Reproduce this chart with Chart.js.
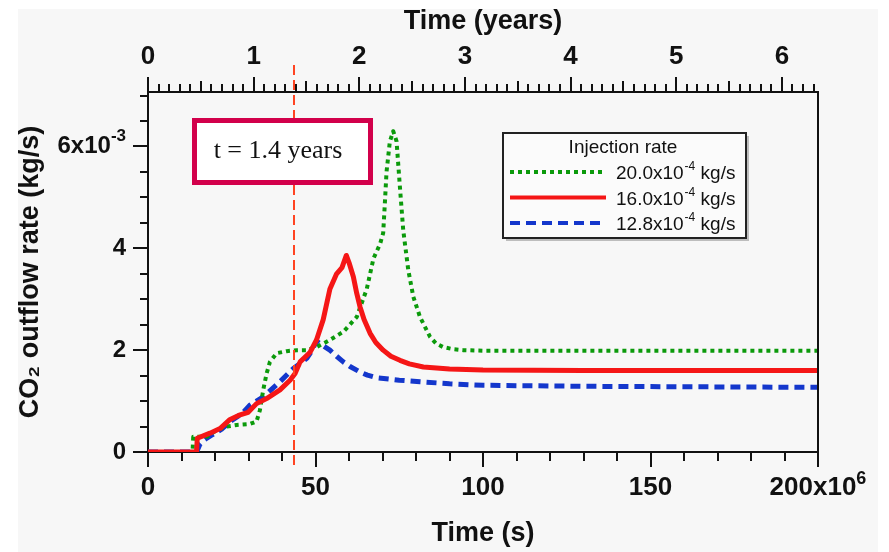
<!DOCTYPE html>
<html>
<head>
<meta charset="utf-8">
<title>CO2 outflow rate</title>
<script src="https://cdn.jsdelivr.net/npm/chart.js@4.4.1/dist/chart.umd.min.js"></script>
<style>
    html, body { margin: 0; padding: 0; background: #ffffff; }
    canvas { display: block; }
</style>
</head>
<body>
<canvas id="grafico-co2" width="889" height="552"></canvas>
<script>
// time in 10^6 s, rate in 10^-3 kg/s
const greenTime = [0, 13.3, 13.5, 17.5, 20.5, 23.5, 26.5, 30.4, 32.4, 33.4, 34.4, 35.4, 36.4, 38.4, 41.4, 44.4, 47.4, 50.3, 54.3, 58.3, 62.3, 65.3, 67.3, 69.3, 70.2, 70.7, 71.2, 72.2, 73.2, 74.2, 75.2, 76.2, 77.7, 79.2, 81.2, 84.2, 86, 88.1, 91, 94.1, 100, 150, 200];
const greenRate = [0, 0, 0.3, 0.3, 0.43, 0.5, 0.53, 0.55, 0.6, 0.82, 1.22, 1.54, 1.77, 1.94, 1.98, 2.0, 2.0, 2.06, 2.2, 2.36, 2.65, 3.2, 3.8, 4.09, 4.3, 4.88, 5.5, 6.1, 6.3, 6.1, 5.2, 4.35, 3.57, 3.05, 2.65, 2.26, 2.13, 2.06, 2.02, 2.0, 1.99, 1.99, 1.99];

const redTime = [0, 14.5, 14.7, 18.5, 21.5, 24.5, 27.5, 29.9, 32.4, 35.4, 39.4, 42.4, 43.9, 45.4, 48.4, 50.3, 52.3, 54.3, 56.3, 57.9, 59.2, 60.0, 61.3, 62.3, 63.3, 64.5, 66.3, 68, 70.2, 72.5, 75.2, 78, 82.2, 90, 100, 130, 200];
const redRate = [0, 0, 0.27, 0.37, 0.46, 0.64, 0.73, 0.78, 0.95, 1.05, 1.22, 1.41, 1.54, 1.77, 1.96, 2.2, 2.6, 3.2, 3.5, 3.62, 3.86, 3.72, 3.44, 3.12, 2.85, 2.6, 2.33, 2.15, 2.0, 1.88, 1.8, 1.73, 1.67, 1.63, 1.61, 1.6, 1.6];

const blueTime = [0, 14.5, 15.5, 17, 19, 22, 25, 28, 30.4, 34.4, 39.4, 43.4, 47.4, 49, 50.3, 52, 54.3, 56.3, 58.3, 60.3, 63.3, 65.5, 68.2, 75, 81.2, 90, 100, 130, 200];
const blueRate = [0, 0, 0.15, 0.25, 0.33, 0.45, 0.62, 0.75, 0.92, 1.08, 1.38, 1.64, 1.84, 2.0, 2.18, 2.1, 2.0, 1.88, 1.77, 1.68, 1.57, 1.51, 1.46, 1.41, 1.38, 1.34, 1.31, 1.29, 1.27];

const rateNames = ['20.0', '16.0', '12.8'];

const xTicks = [0, 50, 100, 150, 200];
const xTickLabels = ['0', '50', '100', '150', '200x10'];
const xTickPowers = ['', '', '', '', '6'];
const yTicks = [0, 2, 4, 6];
const yTickLabels = ['0', '2', '4', '6x10'];
const yTickPowers = ['', '', '', '-3'];
const yearTicks = [0, 1, 2, 3, 4, 5, 6];

const secondsPerYear = 31.536;
const markerTime = 43.6;

const FONT = 'Liberation Sans, Arial, sans-serif';

function toPoints(xs, ys) {
    return xs.map((x, i) => ({ x: x, y: ys[i] }));
}

function findTick(list, value) {
    return list.findIndex(v => Math.abs(v - value) < 1e-6);
}

function plainLabel(list, labels, powers) {
    return value => {
        const i = findTick(list, value);
        return i >= 0 && !powers[i] ? labels[i] : '';
    };
}

const tickMarks = {
    id: 'tickMarks',
    afterDraw(chart) {
        const { ctx, chartArea, scales } = chart;
        ctx.save();
        ctx.strokeStyle = '#111';
        ctx.lineWidth = 2;

        ctx.beginPath();
        ctx.moveTo(chartArea.right, chartArea.top);
        ctx.lineTo(chartArea.right, chartArea.bottom);
        ctx.stroke();

        scales.x.ticks.forEach(t => {
            const px = Math.round(scales.x.getPixelForValue(t.value));
            const len = findTick(xTicks, t.value) >= 0 ? 15 : 9;
            ctx.beginPath();
            ctx.moveTo(px, chartArea.bottom);
            ctx.lineTo(px, chartArea.bottom + len);
            ctx.stroke();
        });

        scales.xTop.ticks.forEach(t => {
            const px = Math.round(scales.xTop.getPixelForValue(t.value));
            const frac = Math.abs(t.value - Math.round(t.value));
            let len = 8;
            if (frac < 1e-6) len = 15;
            else if (Math.abs(frac - 0.5) < 1e-6) len = 11;
            ctx.beginPath();
            ctx.moveTo(px, chartArea.top);
            ctx.lineTo(px, chartArea.top - len);
            ctx.stroke();
        });

        scales.y.ticks.forEach(t => {
            const py = Math.round(scales.y.getPixelForValue(t.value));
            const len = findTick(yTicks, t.value) >= 0 ? 15 : 8;
            ctx.beginPath();
            ctx.moveTo(chartArea.left, py);
            ctx.lineTo(chartArea.left - len, py);
            ctx.stroke();
        });

        // labels with a power of ten
        ctx.fillStyle = '#111';
        ctx.textBaseline = 'middle';
        ctx.textAlign = 'left';
        xTicks.forEach((v, i) => {
            if (!xTickPowers[i]) return;
            ctx.font = 'bold 26px ' + FONT;
            const wb = ctx.measureText(xTickLabels[i]).width;
            ctx.font = 'bold 18px ' + FONT;
            const wp = ctx.measureText(xTickPowers[i]).width;
            const x0 = scales.x.getPixelForValue(v) - (wb + wp) / 2;
            const yc = chartArea.bottom + 36;
            ctx.font = 'bold 26px ' + FONT;
            ctx.fillText(xTickLabels[i], x0, yc);
            ctx.font = 'bold 18px ' + FONT;
            ctx.fillText(xTickPowers[i], x0 + wb, yc - 9);
        });
        yTicks.forEach((v, i) => {
            if (!yTickPowers[i]) return;
            ctx.font = 'bold 17px ' + FONT;
            const wp = ctx.measureText(yTickPowers[i]).width;
            ctx.font = 'bold 24px ' + FONT;
            const wb = ctx.measureText(yTickLabels[i]).width;
            const right = chartArea.left - 22;
            const yc = scales.y.getPixelForValue(v);
            ctx.fillText(yTickLabels[i], right - wp - wb, yc);
            ctx.font = 'bold 17px ' + FONT;
            ctx.fillText(yTickPowers[i], right - wp, yc - 10);
        });

        // marker line at t = 1.4 years
        const mx = Math.round(scales.x.getPixelForValue(markerTime));
        ctx.strokeStyle = '#ff4422';
        ctx.lineWidth = 2;
        ctx.setLineDash([10, 5]);
        ctx.beginPath();
        ctx.moveTo(mx, chartArea.top - 27);
        ctx.lineTo(mx, chartArea.bottom + 16);
        ctx.stroke();
        ctx.setLineDash([]);

        // annotation box
        ctx.fillStyle = '#ffffff';
        ctx.fillRect(194.5, 120.5, 176, 62);
        ctx.strokeStyle = '#d2004b';
        ctx.lineWidth = 5;
        ctx.strokeRect(194.5, 120.5, 176, 62);
        ctx.fillStyle = '#111';
        ctx.font = '26px "Liberation Serif", "Times New Roman", serif';
        ctx.textAlign = 'center';
        ctx.textBaseline = 'alphabetic';
        ctx.fillText('t = 1.4 years', 278, 158);

        ctx.restore();
    }
};

const legendBox = {
    id: 'legendBox',
    afterDraw(chart) {
        const { ctx } = chart;
        const left = 503, top = 133, w = 243, h = 105;
        ctx.save();
        ctx.fillStyle = '#bdbdbd';
        ctx.fillRect(left + 3, top + 3, w, h);
        ctx.fillStyle = '#fbfbfb';
        ctx.fillRect(left, top, w, h);
        ctx.strokeStyle = '#222';
        ctx.lineWidth = 2;
        ctx.strokeRect(left, top, w, h);

        ctx.fillStyle = '#111';
        ctx.font = '19px ' + FONT;
        ctx.textAlign = 'center';
        ctx.textBaseline = 'middle';
        ctx.fillText('Injection rate', 623, 148);

        chart.data.datasets.forEach((ds, i) => {
            const y = 172 + i * 25.5;
            ctx.strokeStyle = ds.borderColor;
            ctx.lineWidth = 4;
            ctx.setLineDash(ds.borderDash || []);
            ctx.beginPath();
            ctx.moveTo(510, y);
            ctx.lineTo(606, y);
            ctx.stroke();
            ctx.setLineDash([]);

            ctx.textAlign = 'left';
            ctx.textBaseline = 'alphabetic';
            let x = 616;
            ctx.font = '19px ' + FONT;
            const base = rateNames[i] + 'x10';
            ctx.fillText(base, x, y + 7);
            x += ctx.measureText(base).width;
            ctx.font = '12px ' + FONT;
            ctx.fillText('-4', x + 1, y - 2);
            x += ctx.measureText('-4').width + 1;
            ctx.font = '19px ' + FONT;
            ctx.fillText(' kg/s', x, y + 7);
        });
        ctx.restore();
    }
};

const background = {
    id: 'background',
    beforeDraw(chart) {
        const ctx = chart.ctx;
        ctx.save();
        ctx.fillStyle = '#f7f7f7';
        ctx.fillRect(18, 9, 860, 543);
        ctx.restore();
    }
};

const ctx = document.getElementById('grafico-co2');

new Chart(ctx, {
    type: 'line',
    data: {
        datasets: [{
            label: rateNames[0],
            data: toPoints(greenTime, greenRate),
            xAxisID: 'x',
            yAxisID: 'y',
            borderColor: '#0b9a0b',
            borderWidth: 4,
            borderDash: [4, 4],
            order: 1
        }, {
            label: rateNames[1],
            data: toPoints(redTime, redRate),
            xAxisID: 'x',
            yAxisID: 'y',
            borderColor: '#f51616',
            borderWidth: 5,
            order: 0
        }, {
            label: rateNames[2],
            data: toPoints(blueTime, blueRate),
            xAxisID: 'x',
            yAxisID: 'y',
            borderColor: '#1437cc',
            borderWidth: 5,
            borderDash: [10, 6],
            order: 2
        }]
    },
    options: {
        responsive: false,
        animation: false,
        layout: { padding: { left: 0, right: 71, top: 0, bottom: 0 } },
        elements: {
            point: { radius: 0 },
            line: { tension: 0, fill: false, borderJoinStyle: 'round' }
        },
        plugins: {
            legend: { display: false },
            tooltip: { enabled: false }
        },
        scales: {
            x: {
                type: 'linear',
                position: 'bottom',
                min: 0,
                max: 200,
                ticks: {
                    stepSize: 10,
                    autoSkip: false,
                    maxRotation: 0,
                    minRotation: 0,
                    padding: 5,
                    color: '#111',
                    font: { family: FONT, size: 26, weight: 'bold' },
                    callback: plainLabel(xTicks, xTickLabels, xTickPowers)
                },
                grid: { drawOnChartArea: false, tickLength: 15, tickColor: 'rgba(0,0,0,0)' },
                border: { color: '#111', width: 2 },
                title: {
                    display: true,
                    text: 'Time (s)',
                    color: '#111',
                    font: { family: FONT, size: 27, weight: 'bold' },
                    padding: { top: 0, bottom: 2 }
                },
                afterFit(scale) { scale.height = 100; }
            },
            xTop: {
                type: 'linear',
                position: 'top',
                min: 0,
                max: 200 / secondsPerYear,
                ticks: {
                    stepSize: 0.1,
                    includeBounds: false,
                    autoSkip: false,
                    maxRotation: 0,
                    minRotation: 0,
                    padding: 5,
                    color: '#111',
                    font: { family: FONT, size: 26, weight: 'bold' },
                    callback: value => {
                        const i = findTick(yearTicks, value);
                        return i >= 0 ? String(yearTicks[i]) : '';
                    }
                },
                grid: { drawOnChartArea: false, tickLength: 15, tickColor: 'rgba(0,0,0,0)' },
                border: { color: '#111', width: 2 },
                title: {
                    display: true,
                    text: 'Time (years)',
                    color: '#111',
                    font: { family: FONT, size: 27, weight: 'bold' },
                    padding: { top: 5, bottom: 0 }
                },
                afterFit(scale) { scale.height = 92; }
            },
            y: {
                type: 'linear',
                position: 'left',
                min: 0,
                max: 7.07,
                ticks: {
                    stepSize: 0.5,
                    includeBounds: false,
                    autoSkip: false,
                    padding: 7,
                    color: '#111',
                    font: { family: FONT, size: 24, weight: 'bold' },
                    callback: plainLabel(yTicks, yTickLabels, yTickPowers)
                },
                grid: { drawOnChartArea: false, tickLength: 15, tickColor: 'rgba(0,0,0,0)' },
                border: { color: '#111', width: 2 },
                title: {
                    display: true,
                    text: 'CO\u2082 outflow rate (kg/s)',
                    color: '#111',
                    font: { family: FONT, size: 27, weight: 'bold' },
                    padding: { top: 14, bottom: 0 }
                },
                afterFit(scale) { scale.width = 148; }
            }
        }
    },
    plugins: [background, tickMarks, legendBox]
});
</script>
</body>
</html>
